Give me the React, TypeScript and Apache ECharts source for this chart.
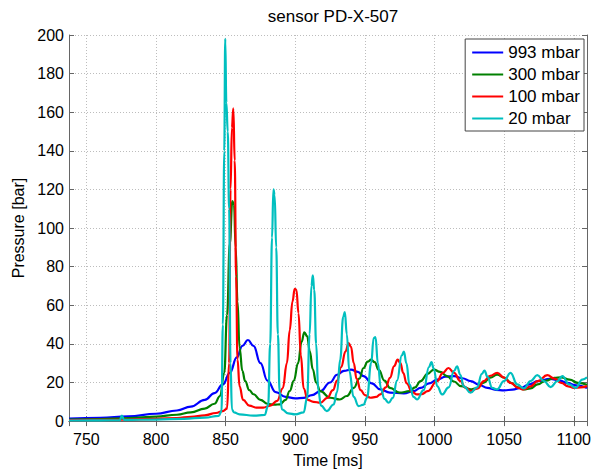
import React, { useEffect, useRef } from "react";
import * as echarts from "echarts";

const titleText = "sensor PD-X-507";
const xName = "Time [ms]";
const yName = "Pressure [bar]";
const seriesNames = ["993 mbar", "300 mbar", "100 mbar", "20 mbar"];
const seriesColors = ["#0000ff", "#008000", "#ff0000", "#00bfbf"];

// [time ms, pressure bar]
const p993: number[][] = [
  [737.5, 1.3], [760, 1.7], [780, 2.4], [800, 3.8], [815, 5.5], [825, 7.5], [835, 11], [842, 14.5], [848, 19],
  [853, 25], [858, 33], [862, 39], [866, 42], [870, 39], [875, 30], [880, 21], [886, 15], [893, 12.5], [900, 11.8],
  [906, 12], [912, 13.5], [918, 15.5], [925, 20], [930, 24], [935, 26], [940, 26.7], [945, 25.5], [949, 23.3],
  [955, 19.5], [961, 16.4], [968, 14.8], [978, 14.3], [985, 15.5], [990, 17.2], [996, 19.5], [1002, 21.5],
  [1008, 23], [1014, 23.3], [1020, 22.2], [1026, 20.7], [1032, 18.8], [1038, 17.2], [1044, 16.2], [1050, 15.9],
  [1056, 16.3], [1062, 17.2], [1068, 19], [1074, 20.7], [1083, 21.9], [1090, 21], [1095, 19.8], [1102, 18.5],
  [1109.5, 17.2],
];

const p300: number[][] = [
  [737.5, 0.8], [760, 1], [780, 1.5], [800, 2.3], [815, 3.3], [825, 4.5], [835, 6.5], [842, 9], [846, 13],
  [849, 25], [851, 55], [853, 92], [854.8, 114], [856, 112], [857.2, 90], [858.5, 62], [860, 38], [862, 26],
  [864, 20.7], [867, 16], [870, 13.9], [875, 11], [880, 9], [885, 8.5], [889, 8.7], [893, 11], [896, 15.6],
  [899, 21], [902, 30], [904.5, 41], [906.5, 46], [908.5, 44], [910.5, 36], [912.5, 27], [915, 20], [918, 15.5],
  [925, 12.1], [932, 11.2], [937, 13], [942, 17.2], [946, 22], [949, 27.5], [952, 30.8], [954.5, 31.8],
  [957, 30.5], [960, 26.5], [964, 21], [968, 17.2], [975, 14.7], [982, 15.5], [986, 17.5], [990, 20.7],
  [995, 24.5], [999.5, 26.7], [1004, 25.5], [1009, 23.3], [1014, 20.5], [1019, 18.1], [1026, 16.4], [1030, 17],
  [1035, 19.8], [1040, 22.5], [1045, 24.1], [1050, 22.5], [1055, 19.8], [1060, 17.5], [1064, 16.4], [1069, 17],
  [1074, 19], [1080, 21], [1086, 22.4], [1091, 22.7], [1097, 21.5], [1103, 19.8], [1109.5, 18.8],
];

const p100: number[][] = [
  [737.5, 0.5], [760, 0.6], [780, 0.8], [800, 1.2], [815, 1.6], [825, 2.2], [835, 3], [843, 4.2], [848, 5.2],
  [851, 6.5], [852.5, 30], [853.5, 120], [854.5, 152], [855.5, 162], [856.5, 135], [857.5, 75], [858.5, 32],
  [860, 18], [862.5, 11], [867, 8], [872, 7], [877, 7], [882, 8], [887, 10.5], [891, 17], [894, 30], [896, 47],
  [898, 62], [899.6, 68.5], [900.8, 68], [902.3, 56], [904, 34], [906, 17], [909, 11], [913, 10], [918, 9.5],
  [923, 12], [927, 16], [930, 21], [933, 28], [936, 36], [938.3, 40.4], [940, 38.5], [942, 30], [944, 22],
  [947, 16], [950, 13.5], [954, 12.1], [958, 12.5], [961, 13.8], [965, 17.5], [968, 22.4], [971, 28.5],
  [973.5, 31.8], [975.5, 30], [977.5, 25], [980, 19.5], [984, 15], [987.5, 13.8], [991, 14], [995, 15.5],
  [1001.8, 20.7], [1006, 25], [1010, 27.5], [1014, 25], [1018.6, 20.7], [1022, 17.5], [1026, 15.5], [1031, 17],
  [1035.4, 20.7], [1040, 23.5], [1045, 25], [1050, 22.5], [1054.6, 19.8], [1060, 17.2], [1064, 16.4], [1069, 18],
  [1074, 20.7], [1081, 23.8], [1086, 22], [1091, 19.8], [1096, 18], [1100, 17.2], [1105, 17.5], [1109.5, 18.1],
];

const p20: number[][] = [
  [737.5, 0.3], [760, 0.4], [774, 0.5], [775.5, 2.8], [777, 0.6], [800, 0.8], [820, 1.2], [835, 1.8], [845, 2.7],
  [847, 5], [848, 50], [849, 140], [849.7, 198], [850.5, 165], [851.5, 150], [852.5, 110], [853.5, 30],
  [854.5, 6], [856, 4.5], [860, 3.5], [870, 2.8], [878, 3.2], [880.5, 8], [882, 40], [883.3, 95], [884.3, 120],
  [885.2, 117], [886.3, 90], [887.5, 45], [888.8, 15], [890.5, 6], [895, 4], [900, 3.5], [906, 4.5],
  [908.5, 12], [910.3, 45], [911.6, 70], [912.6, 75.5], [913.6, 68], [915, 40], [916.5, 16], [918.5, 8],
  [922.7, 5.2], [927.5, 8.6], [930, 15], [932.3, 32], [934.4, 54], [935.6, 56.5], [937, 45], [938.8, 26],
  [941.9, 12.5], [945.5, 7.8], [949, 8.5], [951.5, 12], [954.5, 30], [956.3, 43], [957.6, 43.5], [959.3, 30],
  [961.5, 17], [964, 11.5], [967.1, 9.5], [970, 12], [973.1, 21], [976.5, 34], [978, 36], [979.8, 30],
  [982, 19], [985, 12.5], [987.4, 11.2], [992.2, 16], [996, 28], [997.8, 30.5], [999.5, 27], [1002, 18],
  [1005.4, 13.8], [1010.2, 17.5], [1014, 26], [1016.2, 28.4], [1018.5, 24], [1021, 18], [1025.8, 14.7],
  [1030.6, 17.5], [1034, 24.5], [1035.9, 26.2], [1038, 23], [1041.4, 17.2], [1045, 16.4], [1049.8, 20.7],
  [1054.6, 25], [1059.4, 19], [1064.2, 16.9], [1069, 20.7], [1073.8, 23.8], [1078.6, 20.7], [1083.4, 17.6],
  [1088.2, 20.7], [1091.8, 23.3], [1096.6, 19], [1101.4, 17.2], [1106.1, 21.5], [1109.5, 22.7],
];

const seriesData = [p993, p300, p100, p20];

const FONT = "'Liberation Sans', Arial, sans-serif";
const AXIS_COLOR = "#666";
const xMin = 737.5;
const xMax = 1109.5;
const yMin = 0;
const yMax = 200;

export default function App() {
  const ref = useRef<HTMLDivElement>(null);
  useEffect(() => {
    if (!ref.current) return;
    const chart = echarts.init(ref.current, undefined, { renderer: "svg" });
    const axisLine = { show: true, lineStyle: { color: AXIS_COLOR, width: 1 } };
    const tick = { show: true, inside: true, length: 5, lineStyle: { color: AXIS_COLOR } };
    const split = { show: true, lineStyle: { color: "#bdbdbd", type: [1, 2] as any, width: 1 } };
    chart.setOption({
      animation: false,
      backgroundColor: "#fff",
      title: {
        text: titleText,
        left: 328,
        top: 3,
        textAlign: "center",
        textStyle: { fontFamily: FONT, fontSize: 17, fontWeight: "normal", color: "#000" },
      },
      grid: { left: 69, right: 13, top: 35, bottom: 50, containLabel: false },
      legend: {
        orient: "vertical",
        right: 16,
        top: 39,
        data: seriesNames,
        icon: "rect",
        itemWidth: 31,
        itemHeight: 2,
        itemGap: 5,
        padding: [5, 4, 4, 7],
        backgroundColor: "#fff",
        borderColor: "#444",
        borderWidth: 1,
        borderRadius: 0,
        textStyle: { fontFamily: FONT, fontSize: 17, color: "#000" },
      },
      xAxis: [
        {
          type: "value",
          min: xMin,
          max: xMax,
          minInterval: 50,
          maxInterval: 50,
          name: xName,
          nameLocation: "middle",
          nameGap: 30,
          nameTextStyle: { fontFamily: FONT, fontSize: 16, color: "#000" },
          axisLine,
          axisTick: tick,
          splitLine: split,
          axisLabel: {
            fontFamily: FONT,
            fontSize: 16,
            color: "#000",
            margin: 10,
            showMinLabel: false,
            showMaxLabel: false,
            formatter: (v: number) => String(v),
          },
        },
        {
          type: "value",
          position: "top",
          min: xMin,
          max: xMax,
          minInterval: 50,
          maxInterval: 50,
          axisLine,
          axisTick: tick,
          splitLine: { show: false },
          axisLabel: { show: false },
        },
      ],
      yAxis: [
        {
          type: "value",
          min: yMin,
          max: yMax,
          minInterval: 20,
          maxInterval: 20,
          name: yName,
          nameLocation: "middle",
          nameGap: 36,
          nameTextStyle: { fontFamily: FONT, fontSize: 16, color: "#000" },
          axisLine,
          axisTick: tick,
          splitLine: split,
          axisLabel: { fontFamily: FONT, fontSize: 16, color: "#000", margin: 5 },
        },
        {
          type: "value",
          position: "right",
          min: yMin,
          max: yMax,
          minInterval: 20,
          maxInterval: 20,
          axisLine,
          axisTick: tick,
          splitLine: { show: false },
          axisLabel: { show: false },
        },
      ],
      series: seriesNames.map((name, i) => ({
        name,
        type: "line",
        data: seriesData[i],
        xAxisIndex: 0,
        yAxisIndex: 0,
        showSymbol: false,
        symbol: "none",
        smooth: 0.45,
        smoothMonotone: "x",
        lineStyle: { color: seriesColors[i], width: 2.2 },
        itemStyle: { color: seriesColors[i] },
        z: 2 + i,
      })),
    });
    return () => chart.dispose();
  }, []);
  return (
    <div
      ref={ref}
      style={{ position: "absolute", left: 0, top: 0, width: 600, height: 473 }}
    />
  );
}
